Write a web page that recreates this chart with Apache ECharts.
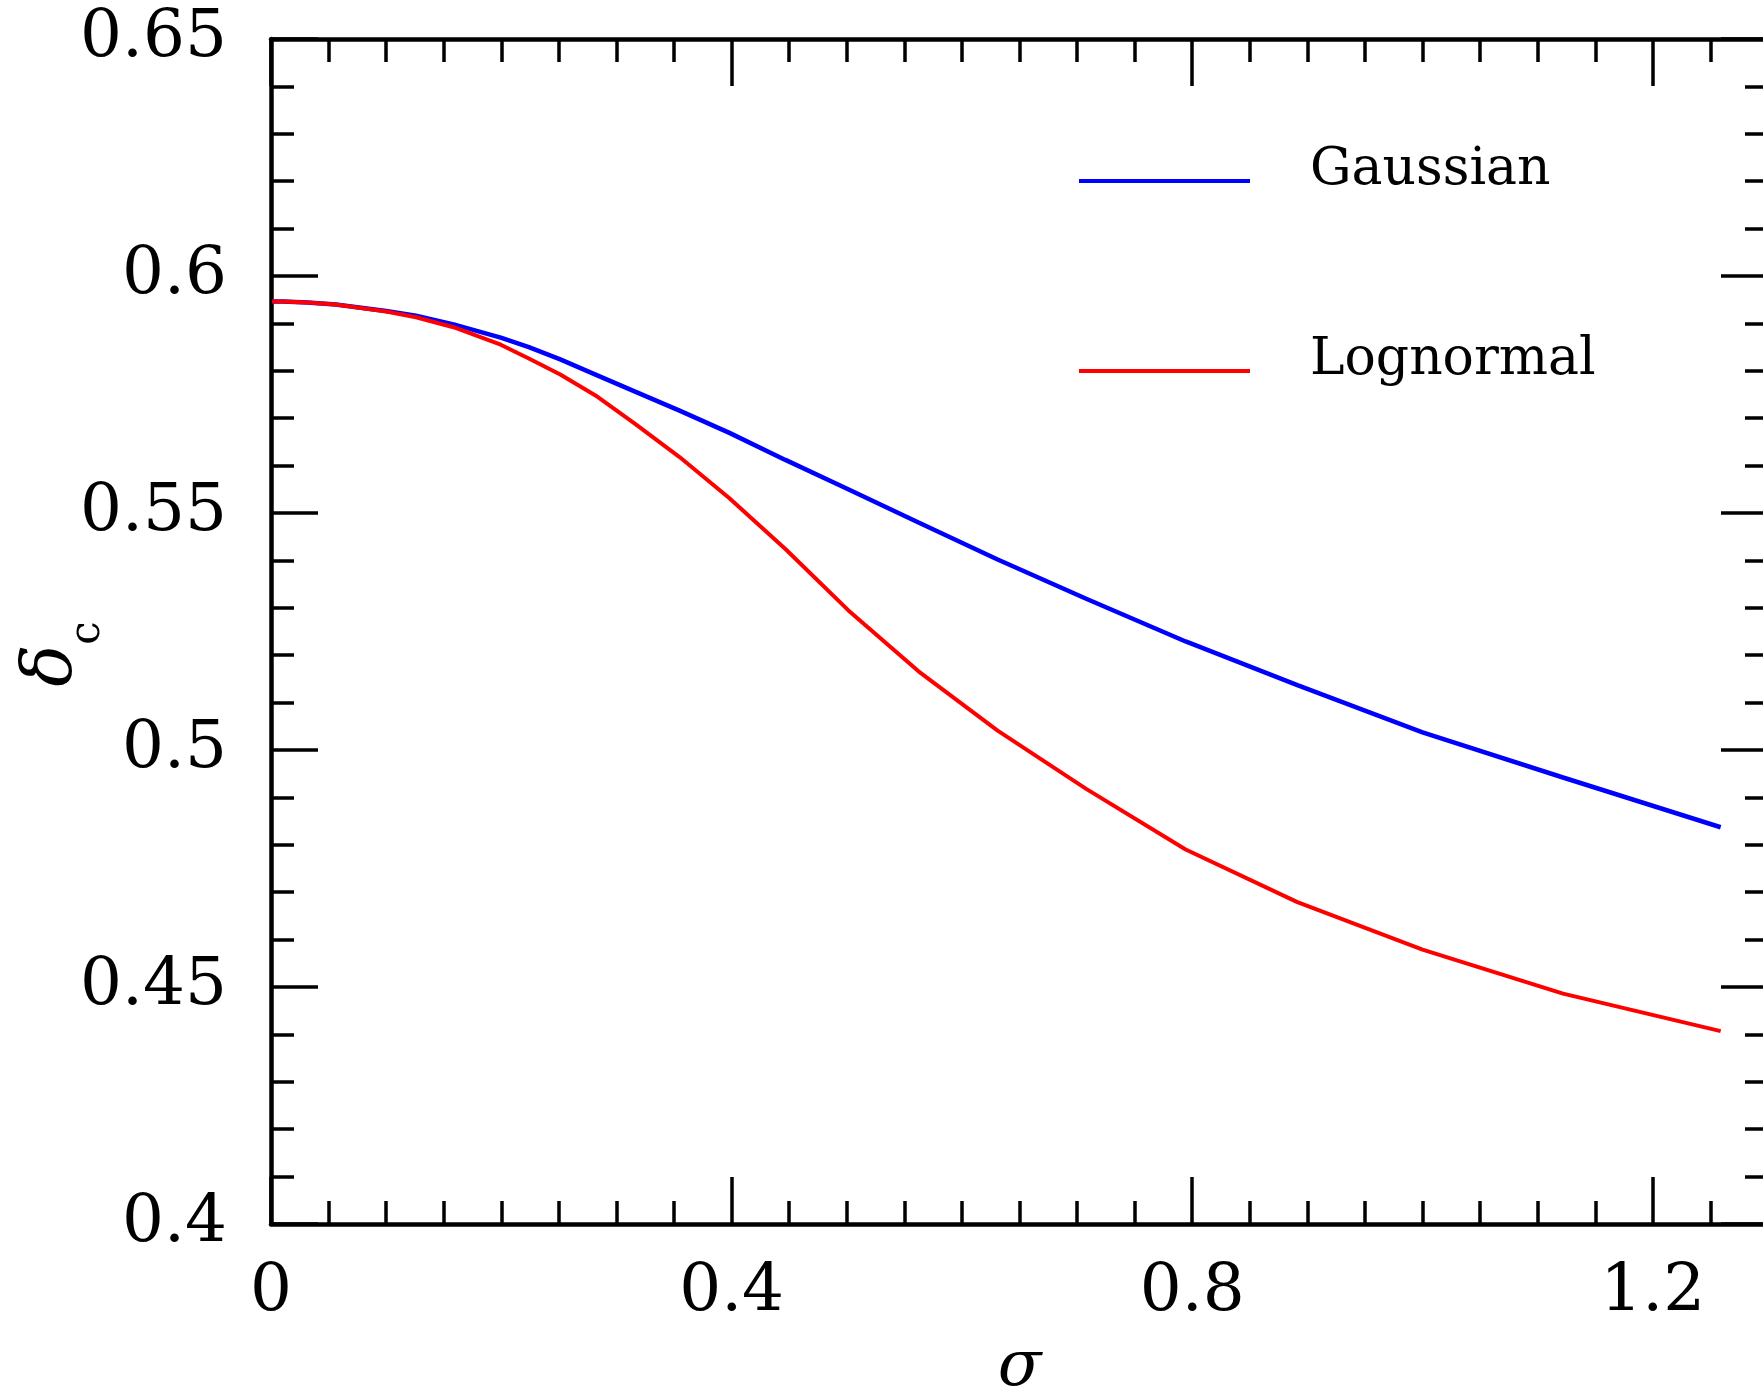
<!DOCTYPE html>
<html>
<head>
<meta charset="utf-8">
<script src="https://cdn.jsdelivr.net/npm/echarts@6/dist/echarts.min.js"></script>
<style>
html,body{margin:0;padding:0;background:#ffffff;}
#chart{width:1763px;height:1387px;}
</style>
</head>
<body>
<div id="chart"></div>
<script>
// ---- data ----
const sigma = [0.001, 0.01, 0.0316, 0.0562, 0.1, 0.1259, 0.1585, 0.1995, 0.2239, 0.2512, 0.2818, 0.3162, 0.3548, 0.3981, 0.4467, 0.5012, 0.5623, 0.6310, 0.7079, 0.7943, 0.8913, 1.0, 1.1220, 1.2589];
const gaussian = [0.5946, 0.5946, 0.5944, 0.5940, 0.5926, 0.5916, 0.5898, 0.5870, 0.5850, 0.5824, 0.5792, 0.5756, 0.5716, 0.5669, 0.5612, 0.5550, 0.5480, 0.5402, 0.5319, 0.5229, 0.5137, 0.5037, 0.4942, 0.4837];
const lognormal = [0.5946, 0.5946, 0.5944, 0.5940, 0.5925, 0.5913, 0.5892, 0.5855, 0.5826, 0.5792, 0.5748, 0.5688, 0.5618, 0.5531, 0.5424, 0.5295, 0.5166, 0.5041, 0.4918, 0.4790, 0.4679, 0.4579, 0.4486, 0.4407];
const seriesNames = ['Gaussian', 'Lognormal'];
const xTickValues = [0, 0.4, 0.8, 1.2];
const yTickValues = [0.4, 0.45, 0.5, 0.55, 0.6, 0.65];

const FONT = 'DejaVu Serif';
const AX = {color: '#000', width: 4.5};
const TK = {color: '#000', width: 3.5};
const X_MIN = 0, X_MAX = 1.3, Y_MIN = 0.4, Y_MAX = 0.65;

function majorX(pos, withLabels) {
  return {
    type: 'value', position: pos, min: X_MIN, max: X_MAX, interval: 0.05,
    axisLine: {show: true, onZero: false, lineStyle: AX},
    axisTick: {show: true, inside: true, length: 47, lineStyle: TK, customValues: xTickValues},
    axisLabel: withLabels ? {show: true, customValues: xTickValues, margin: 36, fontSize: 66, fontFamily: FONT, color: '#000'} : {show: false},
    splitLine: {show: false}
  };
}
function minorX(pos) {
  return {
    type: 'value', position: pos, min: X_MIN, max: X_MAX, interval: 0.05,
    axisLine: {show: false, onZero: false},
    axisTick: {show: true, inside: true, length: 23, lineStyle: TK},
    axisLabel: {show: false},
    splitLine: {show: false}
  };
}
function yAx(pos, withLabels) {
  return {
    type: 'value', position: pos, min: Y_MIN, max: Y_MAX, interval: 0.05,
    axisLine: {show: true, onZero: false, lineStyle: AX},
    axisTick: {show: true, inside: true, length: 47, lineStyle: TK},
    minorTick: {show: true, splitNumber: 5, length: 23, lineStyle: TK},
    axisLabel: withLabels ? {show: true, customValues: yTickValues, margin: 44, fontSize: 66, fontFamily: FONT, color: '#000'} : {show: false},
    splitLine: {show: false}
  };
}

const xAxes = [majorX('bottom', true), minorX('bottom'), majorX('top', false), minorX('top')];
xAxes[0].name = 'σ';
xAxes[0].nameLocation = 'middle';
xAxes[0].nameGap = 112;
xAxes[0].nameMoveOverlap = false;
xAxes[0].nameTextStyle = {fontSize: 64, fontStyle: 'italic', fontFamily: FONT, color: '#000'};

const yAxes = [yAx('left', true), yAx('right', false)];
yAxes[0].name = '{d|δ}{s|c}';
yAxes[0].nameLocation = 'middle';
yAxes[0].nameRotate = 90;
yAxes[0].nameGap = 162;
yAxes[0].nameMoveOverlap = false;
yAxes[0].nameTextStyle = {
  color: '#000',
  rich: {
    d: {fontSize: 70, fontStyle: 'italic', fontFamily: FONT, color: '#000', padding: [0, 0, 0, 0]},
    s: {fontSize: 42, fontFamily: FONT, color: '#000', padding: [70, 45, 0, 0]}
  }
};

// legend icon: a thin bar inside a 171x60 box (the corner points only set the box)
const LEGEND_ICON = 'path://M0,0L0,0M171,60L171,60M0,38.8L171,38.8L171,42.8L0,42.8Z';
function legendFor(name, top) {
  return {
    data: [name], left: 1079, top: top, orient: 'vertical', padding: 0, itemGap: 0,
    icon: LEGEND_ICON, itemWidth: 171, itemHeight: 60, selectedMode: false,
    textStyle: {fontSize: 52, lineHeight: 40, fontFamily: FONT, color: '#000', padding: [0, 0, 0, 55]}
  };
}

const option = {
  animation: false,
  backgroundColor: '#ffffff',
  grid: {left: 271, top: 39, right: -5, bottom: 163, containLabel: false, outerBoundsMode: 'none'},
  xAxis: xAxes,
  yAxis: yAxes,
  legend: [legendFor(seriesNames[0], 140.2), legendFor(seriesNames[1], 330.2)],
  series: [
    {name: seriesNames[0], type: 'line', xAxisIndex: 0, yAxisIndex: 0, showSymbol: false, symbol: 'none',
     color: '#0000ff', lineStyle: {color: '#0000ff', width: 4.5}, data: sigma.map((s, i) => [s, gaussian[i]])},
    {name: seriesNames[1], type: 'line', xAxisIndex: 0, yAxisIndex: 0, showSymbol: false, symbol: 'none',
     color: '#ff0000', lineStyle: {color: '#ff0000', width: 4}, data: sigma.map((s, i) => [s, lognormal[i]])}
  ]
};

const chart = echarts.init(document.getElementById('chart'), null, {renderer: 'canvas'});
chart.setOption(option);
</script>
</body>
</html>
